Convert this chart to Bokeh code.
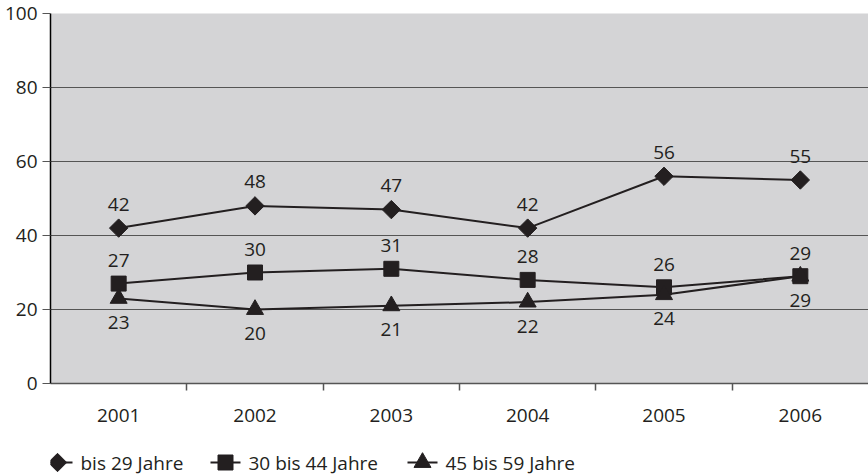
import math
from bokeh.plotting import figure
from bokeh.layouts import column
from bokeh.models import Range1d, FixedTicker
from bokeh.core.properties import value
from bokeh.embed import file_html
from bokeh.resources import INLINE

years = ["2001", "2002", "2003", "2004", "2005", "2006"]
bis29 = [42, 48, 47, 42, 56, 55]
a30_44 = [27, 30, 31, 28, 26, 29]
a45_59 = [23, 20, 21, 22, 24, 29]
series_names = ["bis 29 Jahre", "30 bis 44 Jahre", "45 bis 59 Jahre"]
y_ticks = [0, 20, 40, 60, 80, 100]

FONT = "Open Sans"
TXT = "#231f20"
FS = "19px"
FS_LAB = "19px"

W = 868
LEFT = 50
MAIN_H = 430
LH = 44
xs = [i + 0.5 for i in range(len(years))]
bounds = [i for i in range(1, len(years))]

p = figure(width=W, height=MAIN_H, x_range=Range1d(0, len(years)), y_range=Range1d(0, 100),
           output_backend="svg", toolbar_location=None,
           min_border_left=LEFT, min_border_right=0, min_border_top=13, min_border_bottom=47)
p.background_fill_color = "#d4d4d6"
p.border_fill_color = "white"
p.outline_line_color = None

# y axis
p.yaxis.ticker = FixedTicker(ticks=y_ticks)
p.yaxis.major_tick_out = 8
p.yaxis.major_tick_in = 0
p.yaxis.minor_tick_line_color = None
p.yaxis.axis_line_color = "black"
p.yaxis.axis_line_width = 1.5
p.yaxis.major_tick_line_color = "#555555"
p.yaxis.major_label_standoff = 5
p.yaxis.major_label_text_font = FONT
p.yaxis.major_label_text_font_size = FS
p.yaxis.major_label_text_color = TXT

# x axis: labels at category centres, ticks at category boundaries
p.xaxis.ticker = FixedTicker(ticks=xs, minor_ticks=bounds)
p.xaxis.major_label_overrides = {x: y for x, y in zip(xs, years)}
p.xaxis.major_tick_line_color = None
p.xaxis.major_tick_out = 0
p.xaxis.major_tick_in = 0
p.xaxis.minor_tick_out = 7
p.xaxis.minor_tick_in = 0
p.xaxis.minor_tick_line_color = "#555555"
p.xaxis.minor_tick_line_width = 1.5
p.xaxis.axis_line_color = "#555555"
p.xaxis.axis_line_width = 1.5
p.xaxis.major_label_standoff = 18
p.xaxis.major_label_text_font = FONT
p.xaxis.major_label_text_font_size = FS
p.xaxis.major_label_text_color = TXT

p.xgrid.visible = False
p.ygrid.ticker = FixedTicker(ticks=y_ticks)
p.ygrid.grid_line_color = "#555555"
p.ygrid.grid_line_width = 1

# legend strip below the chart (its frame is aligned with the chart's frame,
# so its x range is expressed in page pixels from LEFT to W)
lg = figure(width=W, height=LH, x_range=Range1d(LEFT, W), y_range=Range1d(0, LH),
            output_backend="svg", toolbar_location=None,
            x_axis_location=None, y_axis_location=None,
            min_border_left=0, min_border_right=0, min_border_top=0, min_border_bottom=0)
lg.xgrid.visible = False
lg.ygrid.visible = False
lg.outline_line_color = None
lg.background_fill_color = "white"
lg.border_fill_color = "white"

legend_x = [42, 210, 407]   # left end of each legend key
KEY_W = 30
KEY_Y = 12

series = [bis29, a30_44, a45_59]
markers = [("square", math.pi / 4, 13), ("square", 0, 15), ("triangle", 0, 17)]
offsets = [-24, -23, 24]
for name, vals, (mk, ang, sz), off, lx in zip(series_names, series, markers, offsets, legend_x):
    p.line(xs, vals, line_width=2, line_color=TXT)
    p.scatter(xs, vals, marker=mk, angle=ang, size=sz, fill_color=TXT, line_color=TXT)
    p.text(x=xs, y=vals, text=[str(v) for v in vals], y_offset=off,
           text_align="center", text_baseline="middle",
           text_font=value(FONT), text_font_size=FS_LAB, text_color=TXT)
    # legend key
    lg.line([lx, lx + KEY_W], [KEY_Y, KEY_Y], line_width=2, line_color=TXT)
    lg.scatter([lx + KEY_W / 2], [KEY_Y], marker=mk, angle=ang, size=sz,
               fill_color=TXT, line_color=TXT)
    lg.text(x=[lx + KEY_W + 8], y=[KEY_Y], text=[name], text_align="left",
            text_baseline="middle", text_font=value(FONT), text_font_size=FS,
            text_color=TXT)

layout = column(p, lg, spacing=0)
open("out.html", "w").write(file_html(layout, INLINE))
